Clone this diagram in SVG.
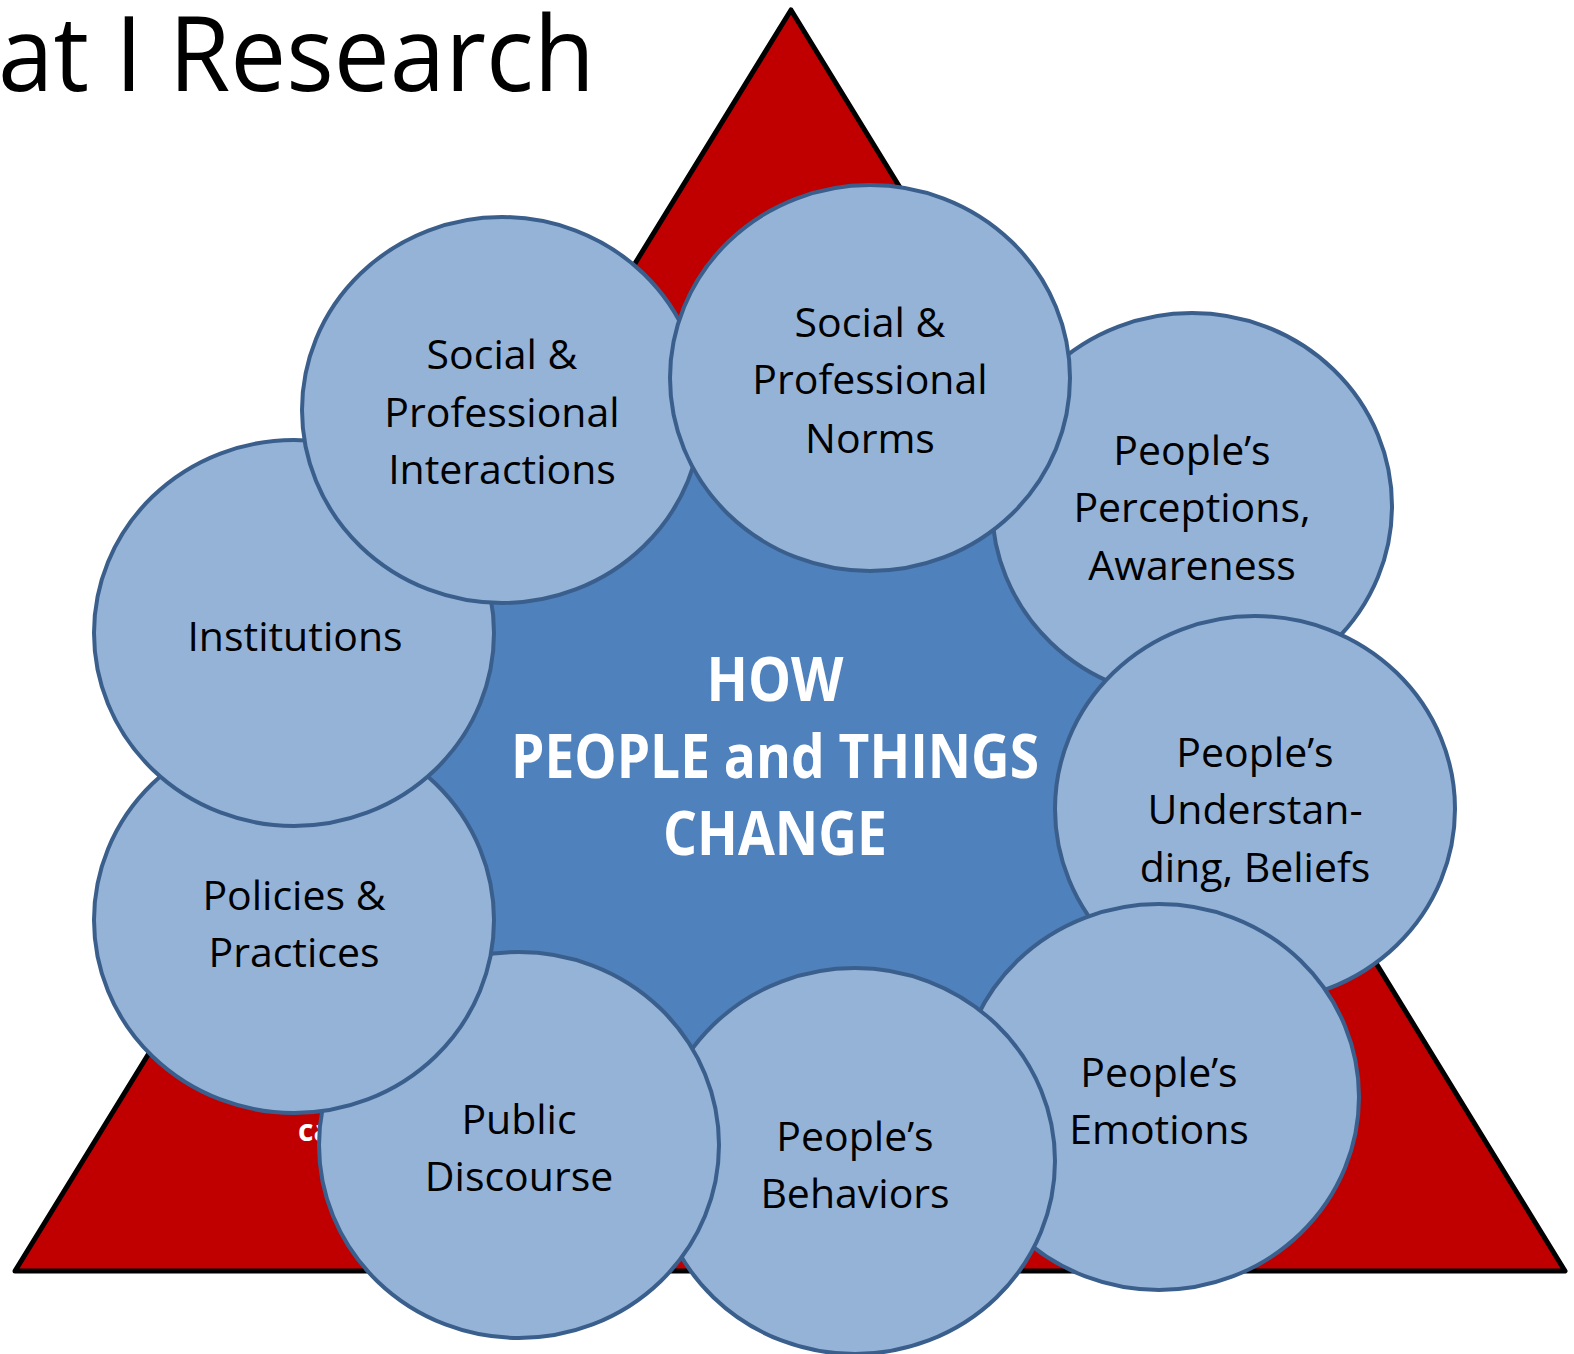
<svg xmlns="http://www.w3.org/2000/svg" width="1574" height="1354" viewBox="0 0 1574 1354">
  <style>
    text { font-family: "Open Sans", "Liberation Sans", sans-serif; }
    .title { font-size: 104px; fill: #000000; }
    .bubble { fill: #95B3D7; stroke: #3A5F8C; stroke-width: 4; }
    .label { font-size: 41px; fill: #000000; text-anchor: middle; }
    .core-text { font-size: 60px; font-weight: bold; fill: #FFFFFF; text-anchor: middle; }
    .tri { fill: #C00000; stroke: #000000; stroke-width: 5; stroke-linejoin: round; }
  </style>

  <rect width="1574" height="1354" fill="#FFFFFF"/>

  <!-- heading, running off the left edge of the page -->
  <text class="title" x="-2" y="91" textLength="597" lengthAdjust="spacingAndGlyphs">at I Research</text>

  <!-- red triangle backdrop -->
  <g id="triangle">
    <polygon class="tri" points="791,10 1565,1271 15,1271"/>
    <text x="298" y="1141" font-size="30" font-weight="bold" fill="#FFFFFF">ca</text>
  </g>

  <!-- central hub -->
  <g id="core">
    <circle cx="772" cy="762" r="368" fill="#4F81BD"/>
    <text class="core-text" x="775" y="701" textLength="137" lengthAdjust="spacingAndGlyphs">HOW</text>
    <text class="core-text" x="775" y="778" textLength="528" lengthAdjust="spacingAndGlyphs">PEOPLE and THINGS</text>
    <text class="core-text" x="775" y="855" textLength="224" lengthAdjust="spacingAndGlyphs">CHANGE</text>
  </g>

  <!-- no connectors in this figure -->
  <g id="connectors"/>

  <!-- ring of bubbles, painted so each overlaps the previous one -->
  <g id="perceptions">
    <ellipse class="bubble" cx="1192" cy="506" rx="200" ry="193"/>
    <text class="label" x="1192" y="465">People’s</text>
    <text class="label" x="1192" y="522">Perceptions,</text>
    <text class="label" x="1192" y="580">Awareness</text>
  </g>
  <g id="understanding">
    <ellipse class="bubble" cx="1255" cy="809" rx="200" ry="193"/>
    <text class="label" x="1255" y="767">People’s</text>
    <text class="label" x="1255" y="824">Understan-</text>
    <text class="label" x="1255" y="882">ding, Beliefs</text>
  </g>
  <g id="emotions">
    <ellipse class="bubble" cx="1159" cy="1097" rx="200" ry="193"/>
    <text class="label" x="1159" y="1087">People’s</text>
    <text class="label" x="1159" y="1144">Emotions</text>
  </g>
  <g id="behaviors">
    <ellipse class="bubble" cx="855" cy="1161" rx="200" ry="193"/>
    <text class="label" x="855" y="1151">People’s</text>
    <text class="label" x="855" y="1208">Behaviors</text>
  </g>
  <g id="discourse">
    <ellipse class="bubble" cx="519" cy="1145" rx="200" ry="193"/>
    <text class="label" x="519" y="1134">Public</text>
    <text class="label" x="519" y="1191">Discourse</text>
  </g>
  <g id="policies">
    <ellipse class="bubble" cx="294" cy="920" rx="200" ry="193"/>
    <text class="label" x="294" y="910">Policies &amp;</text>
    <text class="label" x="294" y="967">Practices</text>
  </g>
  <g id="institutions">
    <ellipse class="bubble" cx="294" cy="633" rx="200" ry="193"/>
    <text class="label" x="295" y="651">Institutions</text>
  </g>
  <g id="interactions">
    <ellipse class="bubble" cx="502" cy="410" rx="200" ry="193"/>
    <text class="label" x="502" y="369">Social &amp;</text>
    <text class="label" x="502" y="427">Professional</text>
    <text class="label" x="502" y="484">Interactions</text>
  </g>
  <g id="norms">
    <ellipse class="bubble" cx="870" cy="378" rx="200" ry="193"/>
    <text class="label" x="870" y="337">Social &amp;</text>
    <text class="label" x="870" y="394">Professional</text>
    <text class="label" x="870" y="453">Norms</text>
  </g>
</svg>
